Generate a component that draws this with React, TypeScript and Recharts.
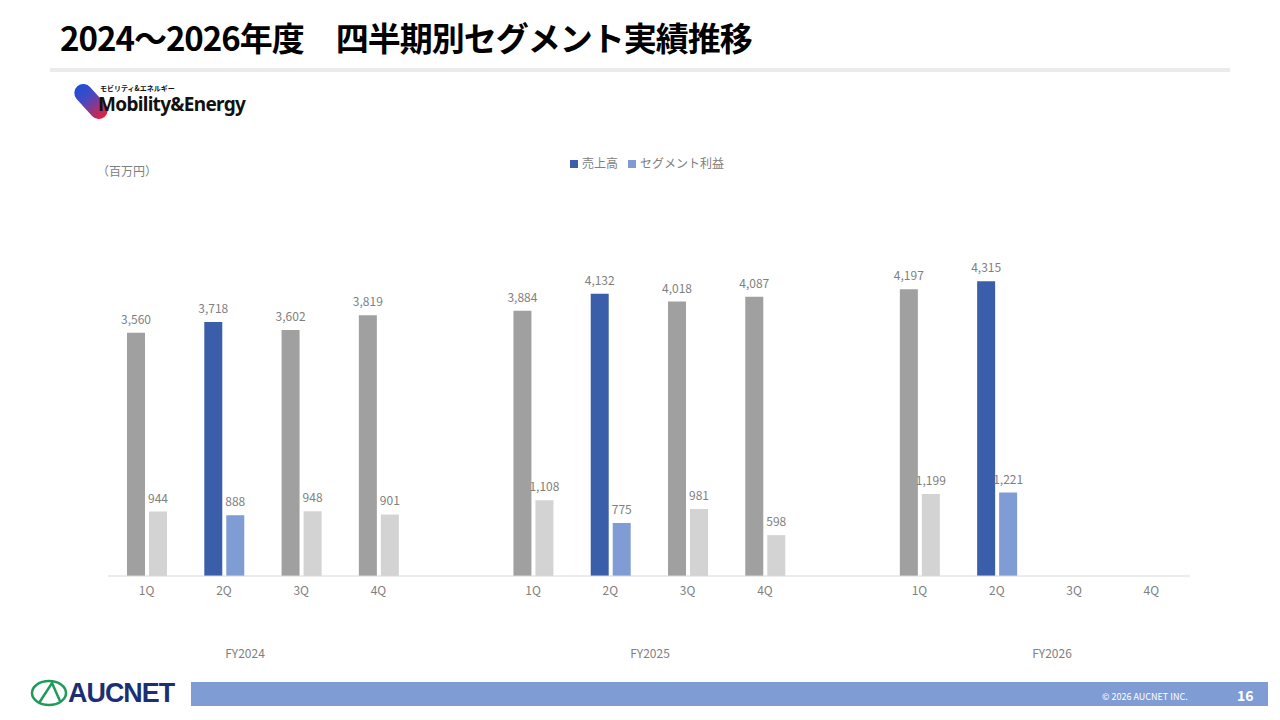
import React from 'react'
import { Bar, BarChart, Cell, LabelList, Legend, XAxis, YAxis } from 'recharts'

const fiscalYears = ['FY2024', 'FY2025', 'FY2026']
const quarters = ['1Q', '2Q', '3Q', '4Q']
const sales = [3560, 3718, 3602, 3819, 3884, 4132, 4018, 4087, 4197, 4315, null, null]
const profit = [944, 888, 948, 901, 1108, 775, 981, 598, 1199, 1221, null, null]
const currentQuarter = '2Q'

const SALES_BLUE = '#3b5eab'
const PROFIT_BLUE = '#7f9cd4'
const SALES_GRAY = '#a0a0a0'
const PROFIT_GRAY = '#d3d3d3'
const TEXT_GRAY = '#808080'
const FONT = '"Noto Sans CJK JP", "Noto Sans", sans-serif'

interface Row {
  key: string
  quarter: string
  sales: number | null
  profit: number | null
}

// one blank slot between fiscal years, like the spacer row in the sheet
const rows: Row[] = []
fiscalYears.forEach((fy, i) => {
  quarters.forEach((q, j) => {
    const idx = i * quarters.length + j
    rows.push({ key: `${fy}-${q}`, quarter: q, sales: sales[idx], profit: profit[idx] })
  })
  if (i < fiscalYears.length - 1) {
    rows.push({ key: `gap-${i}`, quarter: '', sales: null, profit: null })
  }
})

const fmt = (v: any) => (v == null ? '' : Number(v).toLocaleString('en-US'))

function MobilityLogo() {
  return (
    <div style={{ position: 'absolute', left: 74, top: 84, width: 180, height: 36 }}>
      <div
        style={{
          position: 'absolute',
          left: 8,
          top: -3,
          width: 18,
          height: 41,
          borderRadius: 9,
          transform: 'rotate(-42deg)',
          background: 'linear-gradient(180deg, #1d4fd6 0%, #4a48c0 40%, #e8203a 100%)',
        }}
      />
      <div
        style={{
          position: 'absolute',
          left: 26,
          top: 1,
          fontSize: 7,
          fontWeight: 700,
          fontFamily: FONT,
          color: '#111',
          lineHeight: 1,
        }}
      >
        モビリティ&amp;エネルギー
      </div>
      <div
        style={{
          position: 'absolute',
          left: 24,
          top: 11,
          fontSize: 19,
          fontWeight: 700,
          fontFamily: '"Noto Sans", sans-serif',
          color: '#111',
          letterSpacing: -0.7,
          lineHeight: 1,
        }}
      >
        Mobility&amp;Energy
      </div>
    </div>
  )
}

function AucnetLogo() {
  return (
    <div style={{ position: 'absolute', left: 30, top: 679, width: 150, height: 30 }}>
      <svg width={40} height={28} style={{ position: 'absolute', left: 0, top: 0 }}>
        <ellipse cx={19} cy={14} rx={17} ry={12} fill='none' stroke='#1f9a5a' strokeWidth={2.5} />
        <path d='M9 24 L22 4 L30 22' fill='none' stroke='#1f9a5a' strokeWidth={2.5} />
      </svg>
      <div
        style={{
          position: 'absolute',
          left: 38,
          top: -3,
          fontSize: 28,
          fontWeight: 700,
          fontFamily: '"Liberation Sans Narrow", "Liberation Sans", sans-serif',
          color: '#1b2f72',
          letterSpacing: -1,
          lineHeight: 1.2,
          transform: 'scaleX(0.96)',
          transformOrigin: 'left center',
        }}
      >
        AUCNET
      </div>
    </div>
  )
}

export default function App() {
  return (
    <div
      style={{
        position: 'absolute',
        left: 0,
        top: 0,
        width: 1280,
        height: 720,
        background: '#fff',
        fontFamily: FONT,
        overflow: 'hidden',
      }}
    >
      <div
        style={{
          position: 'absolute',
          left: 60,
          top: 19,
          fontSize: 33,
          fontWeight: 700,
          color: '#000',
          lineHeight: 1.1,
          letterSpacing: -1,
          whiteSpace: 'nowrap',
        }}
      >
        2024～2026年度　四半期別セグメント実績推移
      </div>
      <div style={{ position: 'absolute', left: 50, top: 68, width: 1180, height: 4, background: '#ebebeb' }} />

      <MobilityLogo />

      <div style={{ position: 'absolute', left: 97, top: 162, fontSize: 12, color: TEXT_GRAY }}>（百万円）</div>

      <div style={{ position: 'absolute', left: 0, top: 0 }}>
        <BarChart
          width={1280}
          height={720}
          data={rows}
          margin={{ top: 234.5, right: 90, bottom: 114, left: 108 }}
          barSize={18}
          barGap={4}
        >
          <XAxis
            dataKey='quarter'
            height={30}
            tickLine={false}
            tickMargin={4}
            axisLine={{ stroke: '#d9d9d9' }}
            tick={{ fill: TEXT_GRAY, fontSize: 12, fontFamily: FONT }}
            interval={0}
          />
          <YAxis hide domain={[0, 5000]} />
          <Legend
            layout='horizontal'
            verticalAlign='middle'
            align='center'
            iconType='square'
            iconSize={8}
            itemSorter={(item: any) => (item.dataKey === 'sales' ? 0 : 1)}
            wrapperStyle={{ position: 'absolute', top: 149, left: 542, width: 220, textAlign: 'left' }}
            formatter={(value: string) => <span style={{ color: TEXT_GRAY, fontSize: 12 }}>{value}</span>}
          />
          <Bar dataKey='sales' name='売上高' fill={SALES_BLUE} isAnimationActive={false}>
            {rows.map((r) => (
              <Cell key={r.key} fill={r.quarter === currentQuarter ? SALES_BLUE : SALES_GRAY} />
            ))}
            <LabelList dataKey='sales' position='top' offset={9} formatter={fmt} fill={TEXT_GRAY} fontSize={12} />
          </Bar>
          <Bar dataKey='profit' name='セグメント利益' fill={PROFIT_BLUE} isAnimationActive={false}>
            {rows.map((r) => (
              <Cell key={r.key} fill={r.quarter === currentQuarter ? PROFIT_BLUE : PROFIT_GRAY} />
            ))}
            <LabelList dataKey='profit' position='top' offset={9} formatter={fmt} fill={TEXT_GRAY} fontSize={12} />
          </Bar>
        </BarChart>
      </div>

      {fiscalYears.map((fy, i) => (
        <div
          key={fy}
          style={{
            position: 'absolute',
            left: [245, 650, 1052][i] - 40,
            width: 80,
            top: 644,
            textAlign: 'center',
            fontSize: 12,
            color: TEXT_GRAY,
          }}
        >
          {fy}
        </div>
      ))}

      <AucnetLogo />
      <div style={{ position: 'absolute', left: 191, top: 682, width: 1077, height: 24, background: '#7f9cd4' }} />
      <div style={{ position: 'absolute', left: 1102, top: 690, fontSize: 9, color: '#fff' }}>© 2026 AUCNET INC.</div>
      <div style={{ position: 'absolute', left: 1237, top: 685, fontSize: 14, fontWeight: 700, color: '#fff' }}>16</div>
    </div>
  )
}
